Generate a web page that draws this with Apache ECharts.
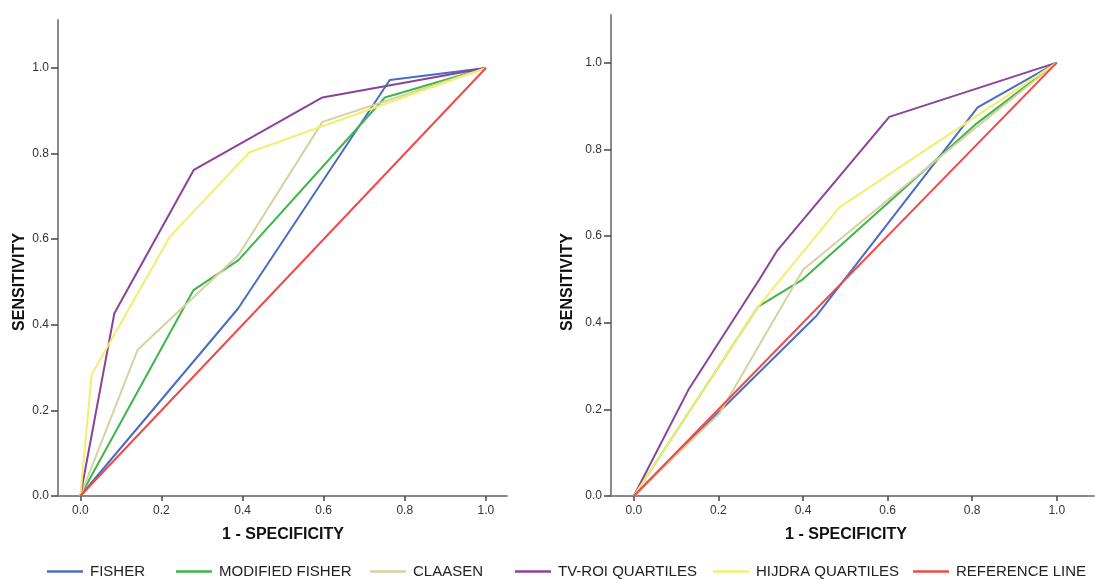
<!DOCTYPE html>
<html>
<head>
<meta charset="utf-8">
<script src="https://cdn.jsdelivr.net/npm/echarts@6/dist/echarts.min.js"></script>
<style>
  html, body { margin: 0; padding: 0; background: #fff; }
  #chart { width: 1095px; height: 579px; }
</style>
</head>
<body>
<div id="chart"></div>
<script>
// Curve names, in drawing order
const curveNames = ['FISHER', 'MODIFIED FISHER', 'CLAASEN', 'TV-ROI QUARTILES', 'HIJDRA QUARTILES', 'REFERENCE LINE'];
const curveColors = ['#4a6cc4', '#3fb54a', '#d5d2a2', '#8b4398', '#f3ee70', '#f24848'];

// Tick values shared by both axes
const tickValues = [0, 0.2, 0.4, 0.6, 0.8, 1.0];

// Left panel: ROC points [1 - specificity, sensitivity]
const leftFisher   = [[0, 0], [0.389, 0.438], [0.763, 0.972], [1, 1]];
const leftModified = [[0, 0], [0.279, 0.481], [0.390, 0.551], [0.751, 0.931], [1, 1]];
const leftClaasen  = [[0, 0], [0.141, 0.341], [0.390, 0.563], [0.597, 0.874], [1, 1]];
const leftTvRoi    = [[0, 0], [0.084, 0.427], [0.280, 0.762], [0.597, 0.931], [1, 1]];
const leftHijdra   = [[0, 0], [0.028, 0.284], [0.221, 0.606], [0.417, 0.803], [1, 1]];

// Right panel: ROC points [1 - specificity, sensitivity]
const rightFisher   = [[0, 0], [0.432, 0.416], [0.813, 0.897], [1, 1]];
const rightModified = [[0, 0], [0.294, 0.437], [0.397, 0.498], [0.811, 0.860], [1, 1]];
const rightClaasen  = [[0, 0], [0.203, 0.191], [0.400, 0.522], [0.811, 0.852], [1, 1]];
const rightTvRoi    = [[0, 0], [0.129, 0.245], [0.297, 0.500], [0.338, 0.565], [0.604, 0.875], [1, 1]];
const rightHijdra   = [[0, 0], [0.294, 0.437], [0.486, 0.666], [1, 1]];

// Chance diagonal
const referenceLine = [[0, 0], [1, 1]];

const leftCurves  = [leftFisher, leftModified, leftClaasen, leftTvRoi, leftHijdra, referenceLine];
const rightCurves = [rightFisher, rightModified, rightClaasen, rightTvRoi, rightHijdra, referenceLine];

const axisGray = '#8a8a8a';
const labelStyle = { color: '#333', fontSize: 12, fontFamily: 'Liberation Sans, Arial, sans-serif' };
const fmt = v => Number(v).toFixed(1);

function xAxisFor(gridIndex, min, max) {
  return {
    type: 'value', gridIndex, min, max,
    splitLine: { show: false },
    axisLine: { onZero: false, lineStyle: { color: axisGray, width: 2 } },
    axisTick: { show: true, length: 5, customValues: tickValues, lineStyle: { color: '#444', width: 1.5 } },
    axisLabel: Object.assign({ margin: 9, customValues: tickValues, formatter: fmt }, labelStyle)
  };
}
function yAxisFor(gridIndex, max) {
  return {
    type: 'value', gridIndex, min: 0, max,
    splitLine: { show: false },
    axisLine: { show: true, onZero: false, lineStyle: { color: axisGray, width: 2 } },
    axisTick: { show: true, length: 7, customValues: tickValues, lineStyle: { color: '#444', width: 1.5 } },
    axisLabel: Object.assign({ margin: 9, customValues: tickValues, formatter: fmt }, labelStyle)
  };
}

const series = [];
[leftCurves, rightCurves].forEach((curves, g) => {
  curves.forEach((pts, i) => {
    series.push({
      name: curveNames[i],
      type: 'line',
      xAxisIndex: g, yAxisIndex: g,
      data: pts,
      symbol: 'none',
      silent: true,
      z: 2 + i,
      lineStyle: { color: curveColors[i], width: 2 },
      itemStyle: { color: curveColors[i] }
    });
  });
});

// One legend entry per name, laid out along the bottom row
const legendLefts = [42, 171, 365, 510, 708, 908];
const legends = curveNames.map((name, i) => ({
  data: [name],
  left: legendLefts[i],
  top: 559,
  icon: 'rect',
  itemWidth: 36,
  itemHeight: 2.5,
  selectedMode: false,
  textStyle: { color: '#222', fontSize: 15, fontFamily: 'Liberation Sans, Arial, sans-serif', padding: [0, 0, 0, 2] }
}));

const titleFont = 'bold 16px "Liberation Sans", Arial, sans-serif';
const axisTitles = [
  { x: 283, y: 535, text: '1 - SPECIFICITY', rot: 0 },
  { x: 846, y: 535, text: '1 - SPECIFICITY', rot: 0 },
  { x: 20,  y: 282, text: 'SENSITIVITY', rot: Math.PI / 2 },
  { x: 568, y: 282, text: 'SENSITIVITY', rot: Math.PI / 2 }
].map(t => ({
  type: 'text', x: t.x, y: t.y, rotation: t.rot, silent: true,
  style: { text: t.text, font: titleFont, fill: '#111', align: 'center', verticalAlign: 'middle' }
}));

const chart = echarts.init(document.getElementById('chart'), null, { renderer: 'canvas' });
chart.setOption({
  animation: false,
  backgroundColor: '#fff',
  grid: [
    { left: 58, top: 20, width: 449, height: 476 },
    { left: 611, top: 15, width: 483, height: 481 }
  ],
  xAxis: [xAxisFor(0, -0.055, 1.052), xAxisFor(1, -0.054, 1.088)],
  yAxis: [yAxisFor(0, 1.112), yAxisFor(1, 1.110)],
  legend: legends,
  graphic: axisTitles,
  series
});
</script>
</body>
</html>
